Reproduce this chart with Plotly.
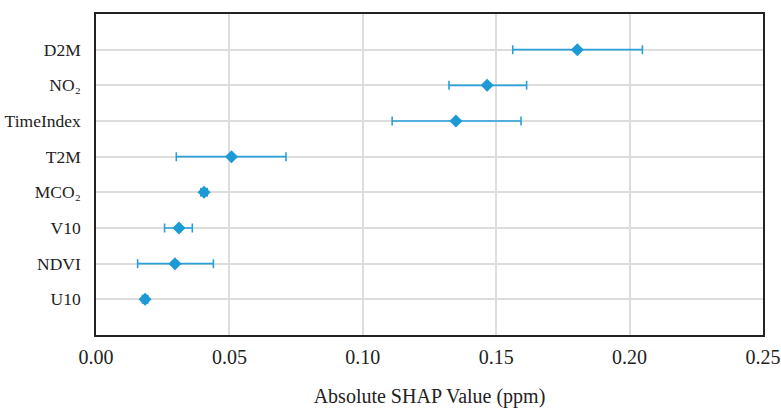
import plotly.graph_objects as go

features = ["D2M", "NO₂", "TimeIndex", "T2M", "MCO₂", "V10", "NDVI", "U10"]
mean_shap = [0.1804, 0.1466, 0.1349, 0.0508, 0.0405, 0.0311, 0.0296, 0.0184]
err_low = [0.1562, 0.1323, 0.1110, 0.0301, 0.0393, 0.0257, 0.0156, 0.0174]
err_high = [0.2048, 0.1614, 0.1593, 0.0712, 0.0417, 0.0361, 0.0440, 0.0194]
x_ticks = [0.00, 0.05, 0.10, 0.15, 0.20, 0.25]

color = "#1b9ad6"
plus = [h - m for h, m in zip(err_high, mean_shap)]
minus = [m - l for m, l in zip(mean_shap, err_low)]

fig = go.Figure()
fig.add_trace(go.Scatter(
    x=mean_shap, y=features, mode="markers",
    marker=dict(symbol="diamond", size=10, color=color),
    error_x=dict(type="data", symmetric=False, array=plus, arrayminus=minus,
                 color="#2aa0d9", thickness=1.6, width=4.5),
    showlegend=False,
))

font = "Liberation Serif"
fig.update_layout(
    width=781, height=409,
    margin=dict(l=96, r=18, t=14, b=74, autoexpand=False),
    paper_bgcolor="white", plot_bgcolor="white",
    font=dict(family=font, size=17, color="#222"),
)
fig.update_xaxes(
    range=[0, 0.25], tickvals=x_ticks, ticktext=[f"{v:.2f}" for v in x_ticks],
    showgrid=True, gridcolor="#dddddd", gridwidth=1.5,
    showline=True, linecolor="#222", linewidth=1.5, mirror=True,
    zeroline=False, ticks="", ticklabelstandoff=3,
    title=dict(text="Absolute SHAP Value (ppm)", standoff=22,
               font=dict(family=font, size=20)),
    tickfont=dict(family=font, size=20),
    automargin=False,
)
fig.update_yaxes(
    categoryorder="array", categoryarray=features,
    autorange=False, range=[7 + 1, -1],
    showgrid=True, gridcolor="#dddddd", gridwidth=1.5,
    showline=True, linecolor="#222", linewidth=1.5, mirror=True,
    zeroline=False, ticks="", ticklabelstandoff=10,
    tickfont=dict(family=font, size=17.5),
    automargin=False,
)
fig.write_html(
    "out.html",
    config={"displayModeBar": False},
    post_script="document.body.style.margin='0';document.body.style.overflow='hidden';",
)
